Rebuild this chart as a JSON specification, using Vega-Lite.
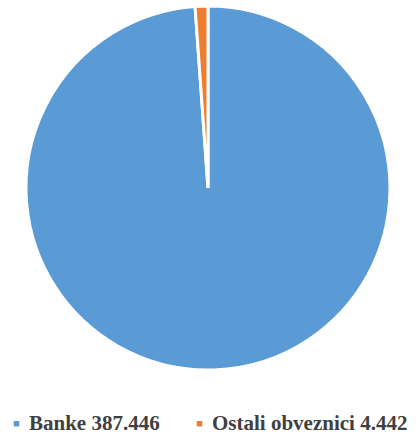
{
  "$schema": "https://vega.github.io/schema/vega-lite/v6.json",
  "width": 416,
  "height": 376,
  "padding": 0,
  "background": "white",
  "view": {"stroke": null},
  "data": {
    "values": [
      {"category": "Banke 387.446", "value": 387.446},
      {"category": "Ostali obveznici 4.442", "value": 4.442}
    ]
  },
  "mark": {"type": "arc", "radius": 182, "stroke": "white", "strokeWidth": 3},
  "encoding": {
    "theta": {"field": "value", "type": "quantitative", "stack": true},
    "order": {"field": "value", "type": "quantitative", "sort": "descending"},
    "color": {
      "field": "category",
      "type": "nominal",
      "sort": ["Banke 387.446", "Ostali obveznici 4.442"],
      "scale": {"domain": ["Banke 387.446", "Ostali obveznici 4.442"], "range": ["#5B9BD5", "#ED7D31"]},
      "legend": {
        "title": null,
        "orient": "none",
        "direction": "horizontal",
        "legendX": 6,
        "legendY": 413,
        "padding": 0,
        "symbolType": "square",
        "symbolSize": 30,
        "symbolStrokeWidth": 0,
        "labelFont": "Liberation Serif",
        "labelFontWeight": "bold",
        "labelFontSize": 21,
        "labelColor": "#404040",
        "labelOffset": 2,
        "columnPadding": 29,
        "labelLimit": 400
      }
    }
  }
}
